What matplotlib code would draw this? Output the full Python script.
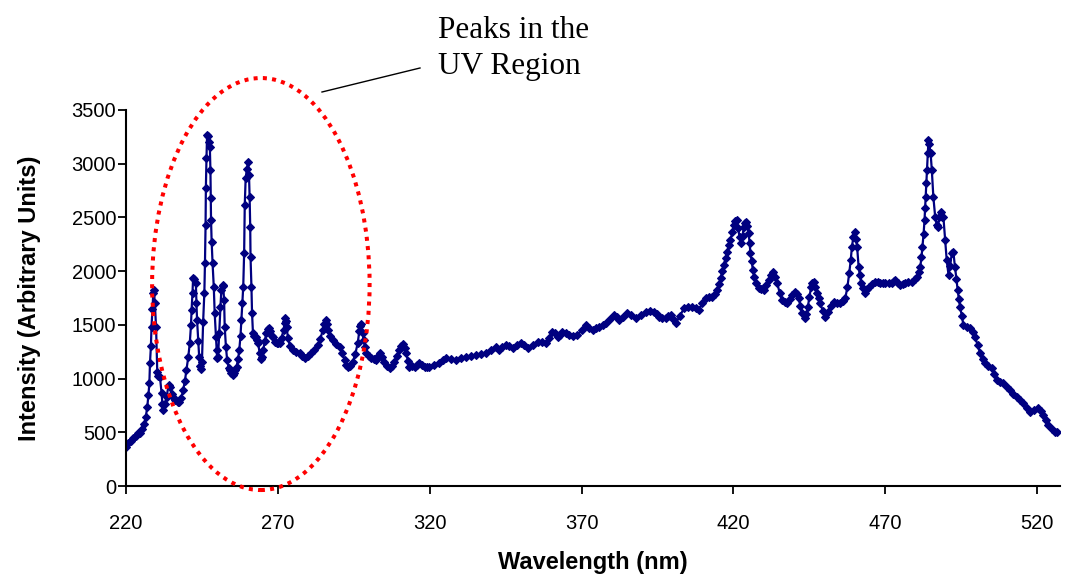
import numpy as np
import matplotlib
matplotlib.use("Agg")
import matplotlib.pyplot as plt
from matplotlib.patches import Ellipse
from matplotlib.lines import Line2D

# emission spectrum, wavelength in nm
wavelength = [
    220.0, 220.8, 221.5, 222.3, 223.2, 224.0, 224.6, 225.3, 226.0, 226.5,
    227.0, 227.4, 227.7, 227.9, 228.2, 228.4, 228.7, 229.0, 229.2, 229.5,
    229.9, 230.3, 230.7, 231.2, 231.7, 232.0, 232.3, 232.7, 233.4, 234.0,
    234.4, 235.0, 235.5, 236.2, 237.0, 237.5, 238.2, 238.8, 239.4, 239.9,
    240.5, 241.0, 241.4, 241.6, 241.9, 242.1, 242.5, 243.0, 243.2, 243.4,
    243.8, 244.1, 244.4, 244.7, 245.0, 245.4, 245.8, 246.0, 246.2, 246.3,
    246.5, 246.7, 247.0, 247.3, 247.6, 247.8, 247.9, 248.0, 248.2, 248.5,
    248.9, 249.2, 249.6, 249.8, 250.0, 250.3, 250.7, 251.1, 251.4, 251.8,
    252.0, 252.3, 252.5, 252.9, 253.3, 253.8, 254.2, 254.7, 255.1, 255.6,
    256.0, 256.4, 256.9, 257.3, 257.7, 258.0, 258.3, 258.6, 258.9, 259.1,
    259.4, 259.8, 260.2, 260.5, 260.7, 260.9, 261.0, 261.3, 261.5, 261.8,
    262.2, 262.7, 263.1, 263.5, 264.0, 264.4, 264.8, 265.2, 265.7, 266.2,
    266.7, 267.1, 267.5, 268.0, 268.4, 269.0, 269.7, 270.2, 270.6, 271.2,
    271.9, 272.2, 272.5, 272.8, 272.9, 273.3, 274.0, 275.0, 276.0, 277.2,
    278.0, 278.8, 279.8, 281.0, 282.0, 283.2, 284.0, 284.8, 285.3, 285.7,
    286.1, 286.5, 287.3, 288.1, 289.2, 290.3, 291.2, 292.0, 292.5, 293.0,
    293.8, 294.7, 295.5, 296.3, 296.8, 297.1, 297.5, 297.9, 298.2, 298.7,
    299.1, 300.0, 300.7, 301.5, 302.4, 303.0, 303.7, 304.4, 305.1, 306.0,
    306.8, 307.6, 308.4, 309.2, 310.0, 310.6, 311.1, 311.7, 312.3, 312.8,
    313.3, 314.2, 315.0, 315.8, 316.6, 317.5, 318.3, 319.1, 319.9, 321.5,
    323.2, 324.3, 325.4, 327.0, 328.7, 330.3, 332.0, 333.7, 335.3, 337.0,
    338.5, 340.2, 341.8, 342.9, 343.7, 345.1, 346.2, 347.3, 348.7, 350.0,
    351.1, 352.2, 353.9, 355.5, 356.9, 358.2, 359.3, 360.4, 361.2, 362.1,
    362.9, 363.7, 364.8, 365.9, 367.2, 368.6, 370.0, 371.4, 372.5, 373.6,
    374.7, 375.8, 376.9, 378.0, 379.4, 380.7, 381.5, 382.3, 383.7, 385.1,
    386.4, 387.8, 389.5, 391.1, 392.5, 393.8, 394.7, 395.5, 396.6, 397.7,
    398.5, 399.3, 400.2, 401.0, 402.3, 403.7, 405.0, 406.4, 407.5, 408.6,
    409.7, 410.8, 411.9, 413.0, 413.8, 414.6, 415.2, 415.8, 416.3, 416.8,
    417.4, 417.9, 418.5, 419.0, 419.6, 420.1, 420.6, 421.0, 421.5, 422.0,
    422.6, 423.0, 423.4, 423.8, 424.2, 424.6, 425.0, 425.3, 425.6, 426.0,
    426.4, 426.8, 427.3, 428.3, 429.2, 430.0, 430.8, 431.6, 432.3, 432.9,
    433.6, 434.4, 435.2, 436.0, 436.8, 437.6, 438.5, 439.3, 440.4, 441.0,
    441.5, 442.0, 442.6, 443.5, 444.0, 444.5, 445.0, 445.6, 446.0, 446.4,
    447.0, 447.5, 448.0, 448.6, 449.4, 450.2, 451.0, 452.0, 453.0, 454.1,
    455.2, 456.0, 456.8, 457.5, 458.1, 458.6, 459.0, 459.5, 459.9, 460.3,
    460.7, 461.2, 461.6, 462.1, 462.7, 463.4, 464.0, 464.5, 465.6, 466.7,
    467.5, 468.3, 469.2, 470.0, 471.1, 472.2, 472.8, 473.3, 474.1, 474.9,
    475.7, 476.5, 477.6, 478.7, 479.6, 480.4, 481.0, 481.5, 481.9, 482.2,
    482.6, 482.9, 483.1, 483.3, 483.5, 483.7, 484.0, 484.2, 484.5, 484.9,
    485.3, 485.8, 486.4, 486.9, 487.3, 487.8, 488.4, 488.8, 489.1, 489.7,
    490.2, 490.8, 491.3, 491.9, 492.4, 492.9, 493.4, 493.8, 494.2, 494.6,
    495.2, 495.7, 496.8, 497.9, 498.7, 499.5, 500.4, 501.2, 502.0, 502.8,
    503.9, 505.0, 505.9, 506.7, 507.8, 508.9, 509.9, 511.0, 512.1, 513.2,
    514.3, 515.4, 516.5, 517.6, 519.0, 520.4, 521.2, 522.0, 522.8, 523.6,
    524.8, 526.0, 526.6,
]

intensity = [
    360, 400, 420, 445, 465, 490, 495, 530, 580, 640,
    735, 850, 960, 1145, 1300, 1480, 1650, 1800, 1825, 1700,
    1480, 1060, 1020, 1010, 870, 760, 710, 760, 830, 940,
    920, 860, 830, 800, 785, 780, 820, 890, 980, 1080,
    1200, 1330, 1500, 1640, 1800, 1940, 1930, 1890, 1700, 1545,
    1350, 1200, 1120, 1090, 1150, 1530, 1800, 2076, 2430, 2774,
    3050, 3270, 3260, 3200, 3160, 2940, 2680, 2476, 2274, 2076,
    1855, 1610, 1390, 1270, 1190, 1200, 1424, 1670, 1825, 1870,
    1860, 1731, 1483, 1297, 1173, 1100, 1080, 1050, 1035, 1050,
    1080, 1111, 1180, 1266, 1400, 1545, 1700, 1855, 2169, 2614,
    2867, 2950, 3019, 2895, 2693, 2414, 2134, 1855, 1610, 1424,
    1400, 1390, 1360, 1331, 1238, 1180, 1200, 1266, 1350, 1424,
    1460, 1471, 1440, 1400, 1390, 1343, 1331, 1330, 1331, 1380,
    1452, 1520, 1564, 1540, 1480, 1380, 1300, 1266, 1250, 1238,
    1210, 1192, 1210, 1238, 1270, 1313, 1370, 1452, 1510, 1545,
    1510, 1452, 1400, 1359, 1320, 1297, 1240, 1173, 1130, 1111,
    1120, 1157, 1230, 1331, 1440, 1490, 1510, 1424, 1359, 1290,
    1238, 1210, 1192, 1180, 1173, 1210, 1238, 1200, 1157, 1120,
    1098, 1120, 1157, 1210, 1266, 1300, 1320, 1280, 1238, 1160,
    1111, 1115, 1111, 1130, 1145, 1130, 1111, 1110, 1111, 1130,
    1145, 1170, 1192, 1180, 1173, 1190, 1204, 1210, 1219, 1225,
    1238, 1270, 1297, 1270, 1290, 1313, 1300, 1285, 1310, 1331,
    1310, 1285, 1310, 1343, 1340, 1331, 1380, 1436, 1420, 1390,
    1410, 1436, 1420, 1406, 1400, 1406, 1450, 1499, 1475, 1452,
    1470, 1483, 1500, 1515, 1550, 1592, 1570, 1545, 1575, 1608,
    1590, 1561, 1590, 1623, 1630, 1623, 1600, 1576, 1565, 1561,
    1580, 1592, 1550, 1515, 1580, 1654, 1665, 1669, 1655, 1638,
    1700, 1747, 1755, 1762, 1790, 1825, 1880, 1934, 2000, 2057,
    2120, 2181, 2240, 2290, 2360, 2430, 2470, 2476, 2400, 2321,
    2259, 2330, 2414, 2450, 2460, 2420, 2352, 2260, 2166, 2090,
    2011, 1950, 1887, 1840, 1830, 1825, 1870, 1918, 1960, 1990,
    1950, 1887, 1800, 1731, 1710, 1700, 1740, 1778, 1809, 1790,
    1747, 1680, 1608, 1561, 1600, 1669, 1760, 1855, 1890, 1902,
    1850, 1794, 1750, 1700, 1630, 1576, 1620, 1680, 1716, 1705,
    1700, 1720, 1747, 1850, 1980, 2100, 2228, 2320, 2367, 2300,
    2228, 2041, 1960, 1887, 1840, 1794, 1830, 1855, 1880, 1902,
    1895, 1887, 1885, 1887, 1885, 1887, 1905, 1918, 1890, 1871,
    1880, 1887, 1895, 1902, 1925, 1948, 1990, 2041, 2130, 2228,
    2350, 2476, 2590, 2693, 2820, 2942, 3100, 3221, 3180, 3097,
    2942, 2693, 2507, 2430, 2414, 2500, 2553, 2500, 2507, 2290,
    2104, 1964, 2050, 2166, 2181, 2041, 1930, 1825, 1740, 1669,
    1580, 1499, 1480, 1468, 1430, 1390, 1310, 1235, 1185, 1142,
    1120, 1096, 1040, 987, 970, 956, 925, 894, 860, 831,
    800, 770, 730, 692, 705, 723, 695, 661, 610, 568,
    535, 506, 500,
]

x_ticks = [220, 270, 320, 370, 420, 470, 520]
y_ticks = [0, 500, 1000, 1500, 2000, 2500, 3000, 3500]

# UV peak region marker: centre, width, height in data units
uv_center = (264.4, 1880)
uv_width = 71.6
uv_height = 3835

plt.rcParams['font.family'] = ['Liberation Sans', 'DejaVu Sans']

fig = plt.figure(figsize=(10.65, 5.81), dpi=100)
ax = fig.add_axes([0.1183, 0.1635, 0.877, 0.6472])

ax.plot(wavelength, intensity, color='#000080', lw=1.6,
        marker='D', markersize=4.2, markeredgewidth=0.8)

ax.set_xlim(220, 527.5)
ax.set_ylim(0, 3500)
ax.set_xticks(x_ticks)
ax.set_yticks(y_ticks)
ax.tick_params(axis='both', direction='out', length=6, width=1.3,
               labelsize=14.5)
ax.tick_params(axis='x', pad=14)
ax.tick_params(axis='y', pad=1)

for side in ['top', 'right']:
    ax.spines[side].set_visible(False)
for side in ['left', 'bottom']:
    ax.spines[side].set_linewidth(1.5)

ax.set_xlabel('Wavelength (nm)', fontsize=17, fontweight='bold', labelpad=13)
ax.set_ylabel('Intensity (Arbitrary Units)', fontsize=17, fontweight='bold',
              labelpad=22)

oval = Ellipse(uv_center, uv_width, uv_height, fill=False, edgecolor='red',
               lw=2.9, linestyle=(0, (1, 1.3)), clip_on=False, zorder=3)
ax.add_patch(oval)

fig.add_artist(Line2D([322 / 1065, 420 / 1065], [1 - 92 / 581, 1 - 68 / 581],
                      color='black', lw=1.0, transform=fig.transFigure))
fig.text(438 / 1065, 1 - 16 / 581, 'Peaks in the\nUV Region', va='top',
         ha='left', fontsize=22.5, family=['Liberation Serif', 'DejaVu Serif'],
         linespacing=1.3)

fig.savefig('out.png', dpi=100)
